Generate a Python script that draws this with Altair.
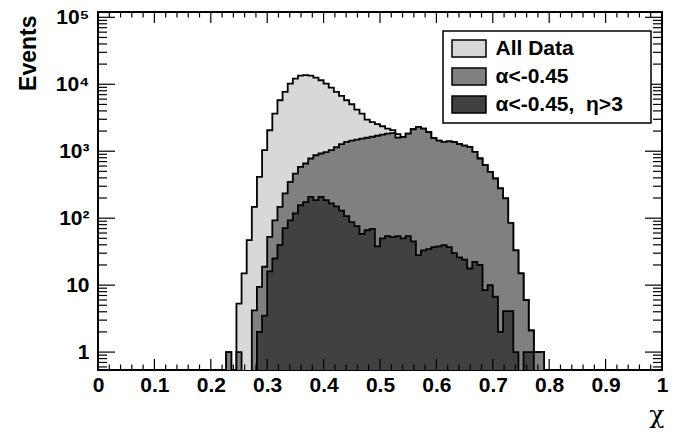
import altair as alt
import pandas as pd

# ---------------- data ----------------
BIN_WIDTH = 1 / 110      # histogram bin width in chi
FIRST_BIN = 24           # index of first listed bin

NB = "\u00a0"
PAD = "\u2800"   # blank glyph that is not trimmed, widens the legend box
series_names = ["All Data", "α<-0.45", "α<-0.45," + NB * 2 + "η>3" + NB + PAD]
series_colors = ["#d8d8d8", "#808080", "#414141"]

# bins 24 .. 87
all_data = [0, 1, 0, 5.3, 15, 47, 147, 413, 1035, 2057, 3653, 5770, 7670, 10240,
            12170, 13500, 13700, 13500, 12600, 11480, 10240, 8930, 7670, 6690,
            5770, 5030, 4190, 3650, 2970, 2710, 2530, 2360, 2180, 2060, 1800,
            1620, 1837, 2130, 2306, 2180, 1923, 1564, 1435, 1376, 1400, 1363,
            1272, 1208, 1159, 977, 778, 618, 491, 391, 278, 197, 85, 33, 15, 6,
            2.1, 1, 1, 0]
alpha_cut = [0, 1, 0, 1, 0, 0, 4.2, 9.4, 18.8, 52.6, 93, 147, 234, 348, 464, 583,
             655, 778, 871, 925, 966, 1035, 1147, 1272, 1376, 1435, 1486, 1540,
             1590, 1645, 1703, 1766, 1825, 1860, 1600, 1620, 1837, 2130, 2306,
             2180, 1923, 1564, 1435, 1376, 1400, 1363, 1272, 1208, 1159, 977, 778,
             618, 491, 391, 278, 197, 85, 33, 15, 6, 2.1, 1, 1, 0]
alpha_eta_cut = [0, 0, 0, 0, 0, 0, 0, 2, 3.5, 16, 25, 40, 71, 93, 118, 156, 174,
                 208, 186, 208, 186, 166, 150, 130, 107, 87, 76, 58, 66, 69, 38,
                 50, 54, 52, 54, 50, 54, 45, 28, 33, 34.5, 37, 38, 39.5, 37, 30,
                 26, 24, 17.7, 22.3, 20, 8.4, 10, 6.7, 2, 4.1, 4.1, 1, 0, 1, 1, 0,
                 0, 0]

x_tick_values = [0, 0.1, 0.2, 0.3, 0.4, 0.5, 0.6, 0.7, 0.8, 0.9, 1]
x_minor_ticks = [round(0.02 * k, 2) for k in range(1, 50) if k % 5 != 0]
y_tick_values = [1, 10, 100, 1000, 10000, 100000]
y_minor_ticks = [m * 10 ** e for e in range(-1, 5) for m in range(2, 10)
                 if 0.54 < m * 10 ** e < 1.2e5]

W, H = 564, 358
FLOOR = 0.05   # stands in for empty bins (below the visible range, clipped)

xs = alt.Scale(domain=[0, 1], nice=False, zero=False)
ys = alt.Scale(type="log", domain=[0.54, 1.2e5], nice=False)
color_scale = alt.Scale(domain=series_names, range=series_colors)


def steps(values, name):
    rows = []
    for i, v in enumerate(values):
        rows.append({"x": (FIRST_BIN + i) * BIN_WIDTH,
                     "y": v if v > 0 else FLOOR, "series": name})
    rows.append({"x": (FIRST_BIN + len(values)) * BIN_WIDTH,
                 "y": rows[-1]["y"], "series": name})
    return pd.DataFrame(rows)


legend = alt.Legend(
    title=None, orient="none", legendX=345, legendY=19, direction="vertical",
    symbolType="M-2,-1H2V1H-2Z", symbolSize=289, symbolStrokeColor="black",
    symbolStrokeWidth=1.5, symbolOffset=8.5, symbolOpacity=1, labelOffset=16,
    labelFont="Liberation Sans", labelFontSize=21, labelFontWeight="bold",
    labelColor="black", rowPadding=5, padding=7, strokeColor="black",
    fillColor="white", labelLimit=400,
)

xaxis = alt.Axis(values=x_tick_values, format="~g", title="χ")
yaxis = alt.Axis(
    values=y_tick_values,
    labelExpr="datum.value < 5 ? '1' : datum.value < 50 ? '10' : datum.value < 500 ? '10²' : datum.value < 5000 ? '10³' : datum.value < 50000 ? '10⁴' : '10⁵'",
    title="Events",
)

layers = []
for vals, name in zip([all_data, alpha_cut, alpha_eta_cut], series_names):
    df = steps(vals, name)
    area = alt.Chart(df).mark_area(interpolate="step-after", clip=True, opacity=1).encode(
        x=alt.X("x:Q", scale=xs, axis=xaxis),
        y=alt.Y("y:Q", scale=ys, axis=yaxis, stack=None),
        y2=alt.value(H),
        color=alt.Color("series:N", scale=color_scale, legend=legend),
    )
    line = alt.Chart(df).mark_line(interpolate="step-after", clip=True,
                                   color="black", strokeWidth=1.8).encode(
        x=alt.X("x:Q", scale=xs, axis=xaxis),
        y=alt.Y("y:Q", scale=ys, axis=yaxis),
    )
    layers += [area, line]


def xticks(values, length):
    df = pd.DataFrame({"t": values})
    bottom = alt.Chart(df).mark_rule(color="black", strokeWidth=1.2).encode(
        x=alt.X("t:Q", scale=xs, axis=xaxis), y=alt.value(H), y2=alt.value(H - length))
    top = alt.Chart(df).mark_rule(color="black", strokeWidth=1.2).encode(
        x=alt.X("t:Q", scale=xs, axis=xaxis), y=alt.value(0), y2=alt.value(length))
    return [bottom, top]


def yticks(values, length):
    df = pd.DataFrame({"t": values})
    left = alt.Chart(df).mark_rule(color="black", strokeWidth=1.2).encode(
        y=alt.Y("t:Q", scale=ys, axis=yaxis), x=alt.value(0), x2=alt.value(length))
    right = alt.Chart(df).mark_rule(color="black", strokeWidth=1.2).encode(
        y=alt.Y("t:Q", scale=ys, axis=yaxis), x=alt.value(W), x2=alt.value(W - length))
    return [left, right]


layers += xticks(x_tick_values, 11) + xticks(x_minor_ticks, 5.5)
layers += yticks(y_tick_values, 17) + yticks(y_minor_ticks, 9)

chart = alt.layer(*layers).properties(
    width=W, height=H, autosize="none",
    padding={"left": 98, "top": 12, "right": 15, "bottom": 62},
    background="white",
).configure_view(
    stroke="black", strokeWidth=2
).configure_legend(
    strokeWidth=1.5
).configure_axis(
    labelFont="Liberation Sans", labelFontSize=21, labelFontWeight="bold",
    labelColor="black", ticks=False, domain=False, grid=False,
    titleColor="black",
).configure_axisX(
    labelFlush=False, labelPadding=4,
    titleFont="DejaVu Serif", titleFontSize=25, titleFontWeight="normal",
    titleAnchor="end", titleAlign="right", titleBaseline="alphabetic",
    titleX=566, titleY=52,
).configure_axisY(
    labelPadding=9,
    titleFont="Liberation Sans", titleFontSize=23, titleFontWeight="bold",
    titleAngle=-90, titleAnchor="end", titleAlign="right",
    titleBaseline="alphabetic", titleX=-63, titleY=3,
)

chart.save("out.html", embed_options={"renderer": "svg", "actions": False})
